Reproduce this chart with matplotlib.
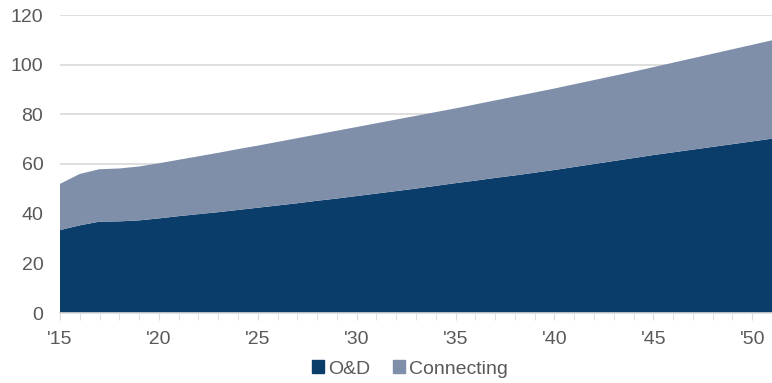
import matplotlib.pyplot as plt
from matplotlib.patches import Patch

plt.rcParams['font.family'] = ['Liberation Sans', 'DejaVu Sans']

years = list(range(2015, 2052))
od = [33.4, 35.3, 36.8, 36.9, 37.3, 38.1, 39.0, 39.8, 40.6, 41.5,
      42.4, 43.3, 44.2, 45.2, 46.1, 47.1, 48.1, 49.1, 50.1, 51.2,
      52.3, 53.3, 54.4, 55.4, 56.5, 57.6, 58.8, 60.0, 61.2, 62.4,
      63.6, 64.7, 65.8, 66.9, 68.0, 69.1, 70.2]
connecting = [18.6, 20.7, 21.1, 21.3, 21.7, 22.2, 22.7, 23.3, 23.9, 24.5,
              25.0, 25.6, 26.2, 26.7, 27.3, 27.8, 28.3, 28.8, 29.3, 29.7,
              30.1, 30.7, 31.2, 31.8, 32.3, 32.8, 33.3, 33.8, 34.3, 34.8,
              35.4, 36.1, 36.8, 37.5, 38.2, 38.9, 39.6]
labels = ["O&D", "Connecting"]
colors = ["#0B3D6B", "#7F8FAA"]
major_years = [2015, 2020, 2025, 2030, 2035, 2040, 2045, 2050]
tick_labels = ["'15", "'20", "'25", "'30", "'35", "'40", "'45", "'50"]

text_color = "#595959"
grid_color = "#D9D9D9"

fig = plt.figure(figsize=(7.72, 3.83), dpi=100)
ax = fig.add_axes([60 / 772, 1 - 313 / 383, 1 - 60 / 772, (313 - 15) / 383])

ax.stackplot(years, od, connecting, colors=colors, linewidth=0)

ax.set_xlim(2015, 2050.6)
ax.set_ylim(0, 120)
ax.set_yticks(range(0, 121, 20))
ax.yaxis.grid(True, color=grid_color, linewidth=1.2)
ax.set_axisbelow(True)
for s in ["top", "right", "left"]:
    ax.spines[s].set_visible(False)
ax.spines["bottom"].set_color(grid_color)
ax.spines["bottom"].set_linewidth(1.2)
ax.spines["bottom"].set_zorder(5)

ax.set_xticks(major_years)
ax.set_xticklabels(tick_labels)
ax.set_xticks(years, minor=True)
ax.tick_params(axis="x", which="both", length=5, color=grid_color,
               labelsize=14, labelcolor=text_color, pad=8)
ax.tick_params(axis="y", length=0, labelsize=14, labelcolor=text_color, pad=12)

handles = [Patch(color=c, label=l) for c, l in zip(colors, labels)]
fig.legend(handles=handles, loc="center", bbox_to_anchor=(410 / 772, 1 - 369 / 383),
           ncol=2, frameon=False, fontsize=14, labelcolor=text_color,
           handlelength=0.6, handleheight=0.6, handletextpad=0.2,
           columnspacing=1.2, borderpad=0)

fig.savefig("out.png", dpi=100)
